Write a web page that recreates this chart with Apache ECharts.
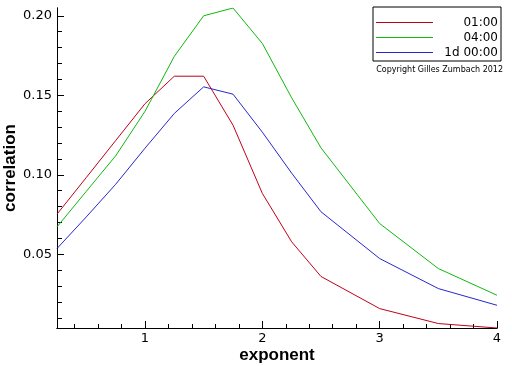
<!DOCTYPE html>
<html>
<head>
<meta charset="utf-8">
<script src="https://cdn.jsdelivr.net/npm/echarts@6/dist/echarts.min.js"></script>
<style>html,body{margin:0;padding:0;background:#fff}#c{width:512px;height:366px}</style>
</head>
<body>
<div id="c"></div>
<script>
var exponents = [0.25, 0.5, 0.75, 1.0, 1.25, 1.5, 1.75, 2.0, 2.25, 2.5, 3.0, 3.5, 4.0];
var corr0100 = [0.0752, 0.0983, 0.1215, 0.1447, 0.1620, 0.1620, 0.1312, 0.0883, 0.0578, 0.0360, 0.0158, 0.0064, 0.0036];
var corr0400 = [0.0672, 0.0896, 0.1119, 0.1399, 0.1745, 0.2000, 0.2049, 0.1826, 0.1484, 0.1169, 0.0693, 0.0410, 0.0242];
var corr1d   = [0.0536, 0.0735, 0.0940, 0.1167, 0.1386, 0.1553, 0.1507, 0.1268, 0.1010, 0.0767, 0.0473, 0.0284, 0.0179];
var seriesNames = ['01:00', '04:00', '1d 00:00'];
var xMajorTicks = [1, 2, 3, 4];
var xMinorTicks = [0.4, 0.6, 0.8, 1.0, 1.2, 1.4, 1.6, 1.8, 2.0, 2.2, 2.4, 2.6, 2.8, 3.0, 3.2, 3.4, 3.6, 3.8, 4.0];
var yMajorTicks = [0.05, 0.10, 0.15, 0.20];
var yMinorTicks = [0.01, 0.02, 0.03, 0.04, 0.05, 0.06, 0.07, 0.08, 0.09, 0.10, 0.11, 0.12, 0.13, 0.14, 0.15, 0.16, 0.17, 0.18, 0.19, 0.20];
var xRange = [0.25, 4];
var yRange = [0.0036, 0.2049];
var copyright = 'Copyright Gilles Zumbach 2012';

function pairs(ys) { return exponents.map(function (x, i) { return [x, ys[i]]; }); }

var colors = ['#c00018', '#10b810', '#2828cc'];
var font = 'DejaVu Sans';
var titleFont = 'Liberation Sans';
var chart = echarts.init(document.getElementById('c'), null, {renderer: 'canvas'});
var baseX = {
  type: 'value', min: xRange[0], max: xRange[1], gridIndex: 0, position: 'bottom',
  splitLine: {show: false},
  axisLine: {show: true, onZero: false, lineStyle: {color: '#000', width: 1}}
};
var baseY = {
  type: 'value', min: yRange[0], max: yRange[1], gridIndex: 0, position: 'left',
  splitLine: {show: false},
  axisLine: {show: true, onZero: false, lineStyle: {color: '#000', width: 1}}
};
chart.setOption({
  animation: false,
  backgroundColor: '#fff',
  grid: {left: 57, right: 15, top: 8, bottom: 38, containLabel: false, outerBoundsMode: 'none'},
  title: {text: copyright, right: 9, top: 66, textStyle: {fontFamily: font, fontSize: 8, fontWeight: 'normal', color: '#000'}, padding: 0},
  legend: {
    orient: 'vertical', left: 373, top: 7,
    padding: [8, 3, 1, 3], itemGap: 0,
    backgroundColor: '#fff', borderColor: '#000', borderWidth: 1,
    itemWidth: 57, itemHeight: 1, icon: 'rect',
    selectedMode: false,
    formatter: function (n) { return '{r|' + n + '}'; },
    textStyle: {fontFamily: font, fontSize: 12, color: '#000', lineHeight: 15,
      rich: {r: {width: 60, align: 'right', fontFamily: font, fontSize: 12, color: '#000', lineHeight: 15}}},
    data: seriesNames
  },
  xAxis: [
    Object.assign({}, baseX, {
      axisTick: {show: true, inside: true, length: 4, customValues: xMinorTicks, lineStyle: {color: '#000'}},
      axisLabel: {show: false},
      name: 'exponent', nameLocation: 'middle', nameGap: 19,
      nameTextStyle: {fontFamily: titleFont, fontSize: 17, fontWeight: 'bold', color: '#000'}
    }),
    Object.assign({}, baseX, {
      axisTick: {show: true, inside: true, length: 7, customValues: xMajorTicks, lineStyle: {color: '#000'}},
      axisLabel: {show: true, customValues: xMajorTicks, margin: 4, fontFamily: font, fontSize: 13, color: '#000',
        formatter: function (v) { return String(v); }}
    })
  ],
  yAxis: [
    Object.assign({}, baseY, {
      axisTick: {show: true, inside: true, length: 5, customValues: yMinorTicks, lineStyle: {color: '#000'}},
      axisLabel: {show: false},
      name: 'correlation', nameLocation: 'middle', nameGap: 38, nameRotate: 90,
      nameTextStyle: {fontFamily: titleFont, fontSize: 17, fontWeight: 'bold', color: '#000'}
    }),
    Object.assign({}, baseY, {
      axisTick: {show: true, inside: true, length: 7, customValues: yMajorTicks, lineStyle: {color: '#000'}},
      axisLabel: {show: true, customValues: yMajorTicks, margin: 5, fontFamily: font, fontSize: 13, color: '#000',
        formatter: function (v) { return v.toFixed(2); }}
    })
  ],
  series: [
    {name: seriesNames[0], type: 'line', data: pairs(corr0100), xAxisIndex: 0, yAxisIndex: 0, showSymbol: false, lineStyle: {width: 1, color: colors[0]}, itemStyle: {color: colors[0]}},
    {name: seriesNames[1], type: 'line', data: pairs(corr0400), xAxisIndex: 0, yAxisIndex: 0, showSymbol: false, lineStyle: {width: 1, color: colors[1]}, itemStyle: {color: colors[1]}},
    {name: seriesNames[2], type: 'line', data: pairs(corr1d), xAxisIndex: 0, yAxisIndex: 0, showSymbol: false, lineStyle: {width: 1, color: colors[2]}, itemStyle: {color: colors[2]}}
  ]
});
</script>
</body>
</html>
